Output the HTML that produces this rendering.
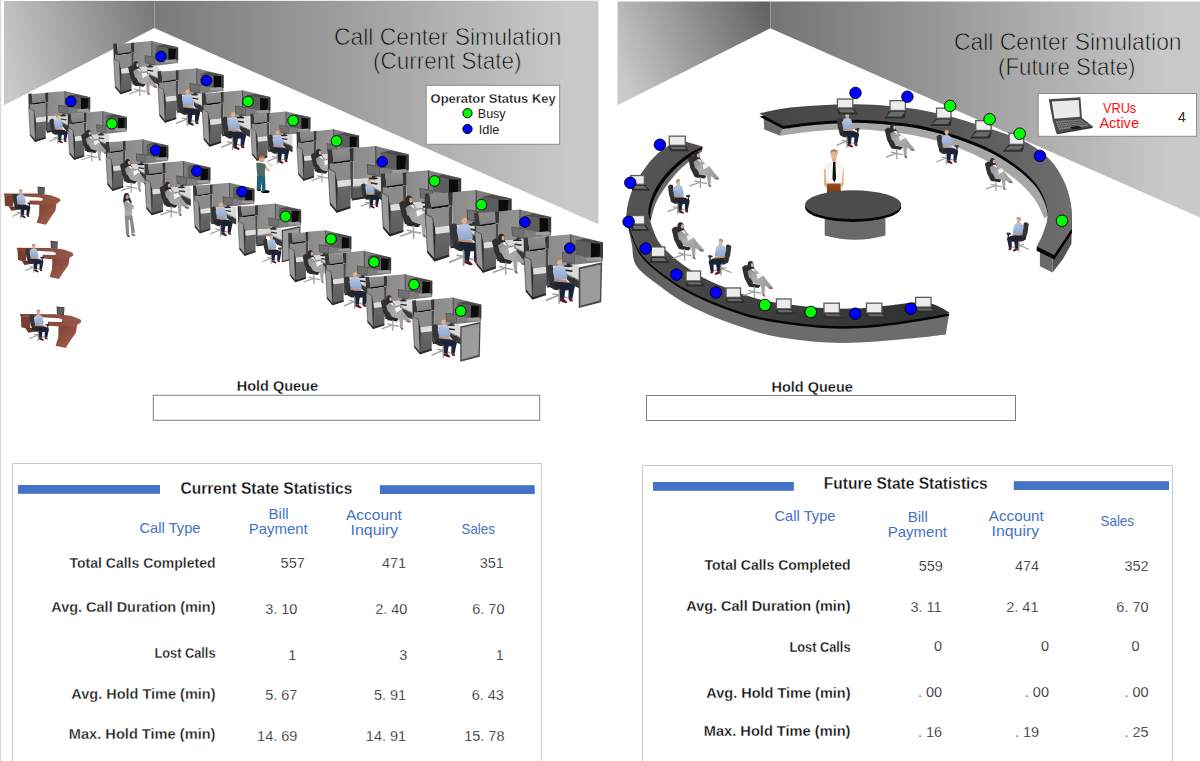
<!DOCTYPE html>
<html lang="en"><head><meta charset="utf-8"><title>Call Center Simulation</title>
<style>
html,body{margin:0;padding:0;background:#fff;}
body{width:1200px;height:761px;overflow:hidden;position:relative;font-family:"Liberation Sans", sans-serif;}
svg{position:absolute;left:0;top:0;display:block;}
text{font-family:"Liberation Sans", sans-serif;}
</style></head>
<body>
<svg width="1200" height="761" viewBox="0 0 1200 761">

<defs>
 <linearGradient id="gLL" gradientUnits="userSpaceOnUse" x1="4" y1="60" x2="154" y2="20">
  <stop offset="0" stop-color="#c8c8c8"/><stop offset="1" stop-color="#7a7a7a"/></linearGradient>
 <linearGradient id="gLR" gradientUnits="userSpaceOnUse" x1="154" y1="0" x2="570" y2="0">
  <stop offset="0" stop-color="#7a7a7a"/><stop offset="1" stop-color="#c9c9c9"/></linearGradient>
 <linearGradient id="gRL" gradientUnits="userSpaceOnUse" x1="617" y1="70" x2="770" y2="5">
  <stop offset="0" stop-color="#cacaca"/><stop offset="1" stop-color="#606060"/></linearGradient>
 <linearGradient id="gRR" gradientUnits="userSpaceOnUse" x1="770" y1="0" x2="1170" y2="0">
  <stop offset="0" stop-color="#747474"/><stop offset="1" stop-color="#c9c9c9"/></linearGradient>
</defs>


<g id="walls">
 <polygon points="4,1 154.3,1 154.3,28 4,105.3" fill="url(#gLL)"/>
 <polygon points="154.3,1 598.4,1 598.4,224.2 154.3,28" fill="url(#gLR)"/>
 <rect x="154" y="1" width="0.8" height="27" fill="#a8a8a8" opacity="0.6"/>
 <polygon points="617.5,1.5 770.2,1.5 770.2,28.3 617.5,105.3" fill="url(#gRL)"/>
 <polygon points="770.2,1.5 1200,1.5 1200,217.5 770.2,28.3" fill="url(#gRR)"/>
 <rect x="769.9" y="1.5" width="0.8" height="27" fill="#b0b0b0" opacity="0.6"/>
 <rect x="0" y="0" width="1.2" height="761" fill="#d9d9d9"/>
 <rect x="61" y="0" width="537" height="1" fill="#ececec"/>
</g>

<defs>
<linearGradient id="gBackL" x1="0" y1="0" x2="1" y2="0"><stop offset="0" stop-color="#8a8a8a"/><stop offset="1" stop-color="#949494"/></linearGradient>
<linearGradient id="gBin" x1="0" y1="0" x2="0" y2="1"><stop offset="0" stop-color="#8f8f8f"/><stop offset="1" stop-color="#7f7f7f"/></linearGradient>
<linearGradient id="gCab" x1="0" y1="0" x2="0" y2="1"><stop offset="0" stop-color="#6a6a6a"/><stop offset="1" stop-color="#5a5a5a"/></linearGradient>
<linearGradient id="gShirt" x1="0" y1="0" x2="0" y2="1"><stop offset="0" stop-color="#b6c8e3"/><stop offset="1" stop-color="#8ca4cd"/></linearGradient>
<linearGradient id="gSuit" x1="0" y1="0" x2="1" y2="1"><stop offset="0" stop-color="#8c8c8c"/><stop offset="1" stop-color="#b8b8b8"/></linearGradient>
<g id="cub"><polygon points="21.78,0.43 40.56,-1.28 40.56,26.05 21.78,26.64" fill="url(#gBackL)"/><polygon points="40.56,-1.28 68.49,5.55 68.49,22.20 40.56,25.62" fill="#7d7d7d"/><polygon points="40.22,-1.28 41.25,-1.11 41.25,25.45 40.22,25.62" fill="#4c4c4c"/><polygon points="44.83,4.27 52.95,2.39 68.49,5.55 58.24,6.58" fill="#4b4b4b"/><polygon points="44.83,4.27 58.24,6.40 58.24,18.96 44.83,16.65" fill="#5e5e5e"/><polygon points="58.24,6.40 66.44,6.66 66.01,18.19 58.24,18.96" fill="#0b0b0b"/><polygon points="66.27,6.15 68.66,5.55 68.66,19.21 65.84,18.96" fill="#3a3a3a"/><polygon points="54.82,18.96 66.95,18.45 66.95,21.69 54.82,21.69" fill="#9d9d9d"/><polygon points="18.79,27.33 43.38,24.77 48.25,26.64 48.25,38.00 37.57,32.88 36.29,30.57 18.79,33.13" fill="#d9d9d9"/><polygon points="18.79,33.13 36.29,30.57 37.57,32.88 48.25,38.00 48.25,39.28 37.15,34.16 18.79,34.33" fill="#8a8a8a"/><polygon points="37.57,34.16 48.25,39.11 48.25,45.43 42.70,43.13 37.57,37.57" fill="#3a3a3a"/><polygon points="20.50,34.16 30.74,33.13 30.74,43.13 20.50,44.83" fill="#5a5a5a"/><polygon points="20.50,43.13 30.74,41.59 30.74,43.13 20.50,44.83" fill="#2a2a2a"/><polygon points="33.13,13.92 44.58,15.71 43.89,24.25 33.65,22.46" fill="#505050"/><polygon points="33.82,14.69 44.06,16.31 43.47,23.57 34.24,21.95" fill="#707070"/><polygon points="37.57,23.74 40.31,24.08 40.31,25.79 37.57,25.45" fill="#2e2e2e"/><ellipse cx="38.60" cy="26.13" rx="3.93" ry="0.85" fill="#262626"/><polygon points="36.29,29.04 42.53,30.06 42.02,31.43 35.70,30.40" fill="#2e2e2e"/><polygon points="5.12,19.64 9.39,21.35 9.39,52.95 7.26,55.00" fill="#2c2c2c"/><polygon points="0.00,1.71 3.84,1.54 5.29,12.81 2.13,18.10 0.43,17.68" fill="#383838"/><polygon points="3.59,1.88 18.53,0.85 18.96,10.67 5.12,12.47" fill="url(#gBin)"/><polygon points="18.53,0.85 21.95,0.34 21.95,11.27 18.96,11.27" fill="#363636"/><polygon points="5.12,12.30 18.96,10.42 18.96,11.96 5.29,13.92" fill="#0c0c0c"/><polygon points="1.71,13.24 5.98,13.66 18.96,11.96 19.47,27.33 8.11,28.52 5.98,21.35 1.71,18.36" fill="#8b8b8b"/><polygon points="18.96,11.78 21.69,11.27 21.35,42.27 19.47,43.38" fill="#484848"/><polygon points="8.11,28.35 19.47,27.07 19.64,32.11 8.54,33.48" fill="#dedede"/><polygon points="8.54,33.48 19.64,32.11 19.30,51.24 7.86,55.00" fill="url(#gCab)"/><polygon points="0.43,17.68 6.40,20.75 7.86,55.00 2.13,48.08" fill="#999999" stroke="#2a2a2a" stroke-width="0.5" stroke-linejoin="round"/><polygon points="2.39,46.54 7.86,53.12 19.30,49.70 19.30,51.41 7.86,55.17 2.13,48.33" fill="#2a2a2a"/></g>
<g id="sidep"><polygon points="47.73,27.39 67.95,22.91 67.12,57.55 47.73,62.52" fill="#4a4a4a"/><polygon points="49.06,28.71 66.63,24.90 65.96,55.90 49.06,60.54" fill="#9c9c9c"/></g>
<g id="man"><polygon points="19.64,26.81 22.63,25.19 25.11,25.62 27.84,40.56 23.23,43.89 20.84,36.72" fill="#353535"/><polygon points="22.72,40.65 41.16,43.21 43.04,45.43 41.16,47.31 27.16,46.97 22.89,44.58" fill="#2b2b2b"/><polygon points="39.97,37.40 44.41,36.72 44.92,38.60 43.72,39.28 43.55,43.72 42.02,43.72 42.02,39.45 40.14,39.11" fill="#303030"/><path d="M30.74,46.54 V58.24 M30.74,51.24 L19.81,55.68 M30.74,51.24 L25.62,50.38 M30.74,51.67 L37.57,53.63" stroke="#9e9e9e" stroke-width="1.4" fill="none" stroke-linecap="round"/><ellipse cx="31.08" cy="22.46" rx="2.22" ry="2.82" fill="#dfb295"/><polygon points="28.52,22.20 29.04,19.81 31.17,18.96 33.30,19.81 33.48,21.35 31.60,20.50 29.72,21.35 29.04,23.23" fill="#b5855a"/><polygon points="30.06,24.59 32.96,24.77 33.30,26.64 29.89,26.47" fill="#d7a688"/><polygon points="25.28,30.32 27.33,26.64 30.06,25.62 34.16,26.13 35.70,27.50 37.75,36.04 37.23,37.92 26.90,38.77" fill="url(#gShirt)"/><polygon points="26.13,37.75 37.57,38.43 38.26,39.97 35.87,40.56 26.64,39.28" fill="#c98c66"/><polygon points="27.16,39.71 39.71,40.31 44.24,43.38 43.55,46.29 31.17,44.58 27.33,43.13" fill="#1b2339"/><polygon points="31.17,43.98 36.55,44.41 35.01,54.82 31.60,54.40" fill="#1b2339"/><polygon points="39.11,44.41 44.15,43.81 42.19,54.40 38.77,53.63" fill="#1b2339"/><polygon points="31.34,54.23 35.01,54.65 38.17,57.39 36.55,58.41 31.60,56.53" fill="#5a1d29"/><polygon points="38.43,53.46 42.10,54.23 42.70,56.87 39.80,56.53" fill="#5a1d29"/></g>
<g id="woman"><polygon points="15.63,26.91 18.34,24.65 21.24,24.65 27.20,42.36 21.78,44.80 17.98,37.03" fill="#303030"/><polygon points="21.60,42.09 34.43,44.44 32.08,47.33 22.50,46.07" fill="#2a2a2a"/><path d="M28.01,46.61 V56.55 M28.01,50.95 L17.17,54.74 M28.01,50.95 L22.59,49.86 M28.01,51.13 L34.07,52.30" stroke="#a4a4a4" stroke-width="1.4" fill="none" stroke-linecap="round"/><ellipse cx="24.13" cy="24.29" rx="2.98" ry="3.98" fill="#2a2a2c"/><polygon points="21.69,24.74 21.42,28.81 22.59,30.62 24.85,29.26 27.11,28.81 28.47,31.07 29.37,29.71 27.11,26.10" fill="#2a2a2c"/><ellipse cx="25.75" cy="24.29" rx="1.36" ry="2.08" fill="#dcae92"/><polygon points="21.06,30.89 24.13,28.54 27.56,27.81 33.16,32.88 30.82,39.02 22.86,37.21" fill="url(#gSuit)"/><polygon points="25.03,28.54 27.38,28.00 29.19,31.43 27.20,30.35" fill="#ffffff"/><polygon points="30.09,33.51 35.15,31.79 36.33,35.41 31.36,37.76" fill="#f4f4f4"/><polygon points="23.95,37.21 30.45,38.84 36.96,34.86 41.66,41.19 36.42,45.17 27.02,42.64" fill="#a8a8a8"/><polygon points="36.78,37.57 41.66,41.19 46.54,46.61 43.47,47.88 36.96,44.26" fill="#a0a0a0"/><polygon points="34.43,43.36 38.59,44.26 38.13,54.02 35.51,53.48" fill="#a4a4a4"/><polygon points="42.02,46.43 46.72,47.15 46.00,48.60 42.20,47.88" fill="#8c5a40"/><polygon points="35.51,53.21 37.95,53.84 39.04,56.10 36.78,55.65" fill="#8c5a40"/></g>
</defs>
<g id="left-scene" clip-path="url(#clipL)">
<clipPath id="clipL"><rect x="0" y="0" width="616" height="380"/></clipPath>
<g transform="translate(113.3,42.1) scale(0.945)">
<use href="#cub"/>
<use href="#woman"/>
</g>
<circle cx="161" cy="56.4" r="5.3" fill="#0000ff" stroke="#000" stroke-width="0.9"/>
<g transform="translate(157.6,69.6) scale(0.962)">
<use href="#cub"/>
<use href="#man"/>
</g>
<circle cx="206.3" cy="80.6" r="5.3" fill="#0000ff" stroke="#000" stroke-width="0.9"/>
<g transform="translate(201.8,91.5) scale(1.000)">
<use href="#cub"/>
<use href="#man"/>
</g>
<circle cx="248" cy="101.4" r="5.3" fill="#00ff00" stroke="#000" stroke-width="0.9"/>
<g transform="translate(250.3,112.5) scale(0.876)">
<use href="#cub"/>
<use href="#man"/>
</g>
<circle cx="293.1" cy="120.5" r="5.3" fill="#00ff00" stroke="#000" stroke-width="0.9"/>
<g transform="translate(296.5,130.5) scale(0.912)">
<use href="#cub"/>
<use href="#woman"/>
</g>
<circle cx="336.4" cy="140.9" r="5.3" fill="#00ff00" stroke="#000" stroke-width="0.9"/>
<g transform="translate(327.6,147.6) scale(1.182)">
<use href="#cub"/>
</g>
<g transform="translate(346.3,164.6) scale(0.75)"><use href="#man"/></g>
<circle cx="382.2" cy="161.8" r="5.3" fill="#0000ff" stroke="#000" stroke-width="0.9"/>
<g transform="translate(380.7,171.8) scale(1.172)">
<use href="#cub"/>
<use href="#woman"/>
</g>
<circle cx="434.5" cy="181" r="5.3" fill="#00ff00" stroke="#000" stroke-width="0.9"/>
<g transform="translate(424.7,191.6) scale(1.266)">
<use href="#cub"/>
<use href="#man"/>
</g>
<circle cx="481.4" cy="204.7" r="5.3" fill="#00ff00" stroke="#000" stroke-width="0.9"/>
<g transform="translate(474.3,210.9) scale(1.120)">
<use href="#cub"/>
<use href="#woman"/>
</g>
<circle cx="524.9" cy="222.1" r="5.3" fill="#0000ff" stroke="#000" stroke-width="0.9"/>
<g transform="translate(523.5,235.7) scale(1.158)">
<use href="#cub"/>
<use href="#man"/>
<use href="#sidep"/>
</g>
<circle cx="569.8" cy="248.1" r="5.3" fill="#0000ff" stroke="#000" stroke-width="0.9"/>
<g transform="translate(28.3,92.2) scale(0.902)">
<use href="#cub"/>
</g>
<g transform="translate(35.0,100.1) scale(0.74)"><use href="#man"/></g>
<circle cx="70.9" cy="101.4" r="5.3" fill="#0000ff" stroke="#000" stroke-width="0.9"/>
<g transform="translate(67.6,112.2) scale(0.864)">
<use href="#cub"/>
<use href="#woman"/>
</g>
<circle cx="111.8" cy="123.7" r="5.3" fill="#00ff00" stroke="#000" stroke-width="0.9"/>
<g transform="translate(105.6,140.5) scale(0.914)">
<use href="#cub"/>
<use href="#woman"/>
</g>
<circle cx="155.6" cy="150.4" r="5.3" fill="#0000ff" stroke="#000" stroke-width="0.9"/>
<g transform="translate(144.4,162.2) scale(0.962)">
<use href="#cub"/>
<use href="#woman"/>
</g>
<circle cx="196.8" cy="171.1" r="5.3" fill="#0000ff" stroke="#000" stroke-width="0.9"/>
<g transform="translate(193.0,183.9) scale(0.895)">
<use href="#cub"/>
<use href="#man"/>
</g>
<circle cx="242.1" cy="191.7" r="5.3" fill="#0000ff" stroke="#000" stroke-width="0.9"/>
<g transform="translate(237.6,204.7) scale(0.926)">
<use href="#cub"/>
<use href="#sidep"/>
</g>
<g transform="translate(248.3,220.0) scale(0.745)"><use href="#man"/></g>
<circle cx="285.5" cy="216.4" r="5.3" fill="#00ff00" stroke="#000" stroke-width="0.9"/>
<g transform="translate(288.2,231.4) scale(0.920)">
<use href="#cub"/>
<use href="#woman"/>
</g>
<circle cx="331" cy="239" r="5.3" fill="#00ff00" stroke="#000" stroke-width="0.9"/>
<g transform="translate(325.0,252.1) scale(0.964)">
<use href="#cub"/>
<use href="#man"/>
</g>
<circle cx="374" cy="262" r="5.3" fill="#00ff00" stroke="#000" stroke-width="0.9"/>
<g transform="translate(365.6,275.4) scale(0.972)">
<use href="#cub"/>
<use href="#woman"/>
</g>
<circle cx="414" cy="284.6" r="5.3" fill="#00ff00" stroke="#000" stroke-width="0.9"/>
<g transform="translate(412.2,298.8) scale(1.007)">
<use href="#cub"/>
<use href="#man"/>
<use href="#sidep"/>
</g>
<circle cx="460.8" cy="311" r="5.3" fill="#00ff00" stroke="#000" stroke-width="0.9"/>
<defs>
<linearGradient id="gWoodT" x1="0" y1="0" x2="1" y2="0"><stop offset="0" stop-color="#7d4033"/><stop offset="1" stop-color="#98584a"/></linearGradient>
<linearGradient id="gWoodF" x1="0" y1="0" x2="1" y2="1"><stop offset="0" stop-color="#7a3e31"/><stop offset="1" stop-color="#a86452"/></linearGradient>
<g id="rdesk"><polygon points="36.66,-7.69 44.58,-6.98 44.11,1.06 37.13,0.35" fill="#3f3f3f"/><polygon points="37.61,-6.74 43.76,-6.15 43.40,0.12 37.96,-0.47" fill="#5d5d5d"/><polygon points="0.95,2.01 10.29,2.48 10.29,13.84 5.56,14.07 1.42,13.13" fill="#7a3e31"/><polygon points="5.56,13.84 15.61,13.84 15.61,17.38 8.51,18.57" fill="#6a3429"/><path d="M0.00,0.83 L0.47,-0.24 36.90,0.00 51.09,1.66 60.55,5.32 61.49,7.92 57.24,10.88 43.99,12.65 28.38,11.47 27.91,7.45 41.63,7.69 42.57,5.56 39.26,4.14 21.76,2.96 0.95,2.25 Z" fill="url(#gWoodT)"/><polygon points="38.67,11.94 57.24,10.76 56.05,18.57 50.14,26.84 45.88,33.70 35.71,31.58 38.32,23.06" fill="url(#gWoodF)"/></g>
</defs>
<g transform="translate(3.6,193.6) scale(0.925)"><use href="#rdesk"/>
<g transform="translate(-5.97,-19.58) scale(0.79)"><use href="#man"/></g>
</g>
<g transform="translate(16.6,247.9) scale(0.925)"><use href="#rdesk"/>
<g transform="translate(-5.97,-19.58) scale(0.79)"><use href="#man"/></g>
</g>
<g transform="translate(19.9,314.2) scale(1.0)"><use href="#rdesk"/>
<g transform="translate(-5.97,-19.58) scale(0.79)"><use href="#man"/></g>
</g>
<g transform="translate(110,185)"><ellipse cx="16.57" cy="11.83" rx="2.84" ry="3.94" fill="#29292b"/><polygon points="13.57,12.62 13.02,16.96 14.99,17.75 18.54,15.78 20.67,18.30 21.93,17.51 19.72,12.62" fill="#29292b"/><ellipse cx="17.28" cy="11.99" rx="1.58" ry="2.29" fill="#c8957b"/><polygon points="13.25,17.20 16.73,15.46 20.67,18.30 23.83,20.67 23.51,23.67 22.25,24.46 22.09,30.61 14.83,30.61 14.67,22.88" fill="url(#gSuit)"/><polygon points="16.17,15.46 18.78,15.78 19.57,18.62 17.51,17.04" fill="#ffffff"/><polygon points="14.67,30.37 22.25,30.37 25.09,47.50 21.46,49.07 19.88,35.11 18.62,35.11 19.09,49.86 16.09,50.18" fill="#8a8a8a"/><polygon points="16.73,50.02 19.41,50.18 19.88,52.23 17.51,51.76" fill="#4a4038"/><polygon points="21.30,48.92 25.09,49.39 25.40,50.65 22.09,50.49" fill="#4a4038"/></g>
<g transform="translate(245,150)"><ellipse cx="20.36" cy="41.51" rx="4.33" ry="1.58" fill="#050505"/><polygon points="11.56,39.28 15.76,38.75 16.16,40.59 13.14,41.25" fill="#0a0a0a"/><ellipse cx="16.81" cy="9.20" rx="2.89" ry="3.15" fill="#d9a886"/><polygon points="13.92,8.54 14.58,6.44 17.21,5.65 19.70,6.57 19.84,8.41 17.73,7.75 15.24,8.28" fill="#c26a3c"/><polygon points="11.30,13.27 13.14,12.61 19.70,13.66 21.94,17.87 19.97,19.70 19.97,26.40 12.35,25.75 11.69,19.70" fill="#4f6d64"/><polygon points="19.70,17.21 21.94,17.21 24.83,19.70 23.78,21.54 20.49,19.70" fill="#e2b496"/><polygon points="22.33,13.79 24.43,12.87 28.64,15.24 27.59,16.55 24.43,16.42" fill="#f1d9cc"/><polygon points="12.09,25.62 20.10,26.27 20.49,40.85 17.08,42.17 16.81,31.66 15.63,39.41 11.69,40.20" fill="#1f6277"/></g>
</g>
<defs>
<linearGradient id="gTop1" gradientUnits="userSpaceOnUse" x1="760" y1="0" x2="1072" y2="0"><stop offset="0" stop-color="#444444"/><stop offset="0.55" stop-color="#545454"/><stop offset="1" stop-color="#6e6e6e"/></linearGradient>
<linearGradient id="gTop2" gradientUnits="userSpaceOnUse" x1="626" y1="150" x2="900" y2="320"><stop offset="0" stop-color="#5a5a5a"/><stop offset="0.35" stop-color="#474747"/><stop offset="1" stop-color="#333333"/></linearGradient>
<linearGradient id="gSide2" gradientUnits="userSpaceOnUse" x1="626" y1="0" x2="700" y2="0"><stop offset="0" stop-color="#555555"/><stop offset="1" stop-color="#6c6c6c"/></linearGradient>
<linearGradient id="gTrou" x1="0" y1="0" x2="0" y2="1"><stop offset="0" stop-color="#9a4e1c"/><stop offset="1" stop-color="#7a3a12"/></linearGradient>
</defs>
<g id="right-scene">
<path d="M783.4,125.9 C789.0,125.2 804.6,122.7 816.8,121.7 C829.0,120.7 844.8,119.7 856.8,119.7 C868.8,119.7 878.6,120.8 888.6,121.7 C898.6,122.6 906.6,123.1 917.0,125.1 C927.4,127.1 939.4,130.1 951.0,133.8 C962.6,137.6 976.4,142.7 986.8,147.6 C997.2,152.5 1005.7,157.9 1013.5,163.5 C1021.3,169.1 1028.4,175.2 1033.5,181.0 C1038.6,186.8 1041.6,192.2 1044.0,198.0 C1046.4,203.8 1047.2,212.8 1047.8,215.7 L1044.6,218.4 C1042.8,214.9 1038.7,204.5 1033.5,197.7 C1028.3,190.9 1021.3,183.8 1013.5,177.7 C1005.7,171.6 997.2,166.4 986.8,161.0 C976.4,155.6 962.6,149.3 951.0,145.1 C939.4,140.9 927.4,138.2 917.0,136.0 C906.6,133.8 898.6,132.9 888.6,131.8 C878.6,130.7 868.8,129.4 856.8,129.3 C844.8,129.2 829.7,129.9 816.8,131.0 C803.9,132.1 785.5,135.2 779.2,136.0 Z" fill="#a6a6a6"/>
<polygon points="763.6,116.5 783.4,126.5 779.6,135.4 764.2,129.4" fill="#6c6c6c"/>
<polygon points="1039.9,251.0 1052.5,258.0 1052.5,272.5 1039.9,266.2" fill="#6a6a6a"/>
<polygon points="1052.5,257.0 1064.0,244.0 1071.8,228.0 1071.4,244.0 1063.0,259.0 1052.5,272.5" fill="#555555"/>
<path d="M759.2,113.4 C763.2,112.6 773.8,109.7 783.4,108.4 C793.0,107.1 804.6,106.1 816.8,105.4 C829.0,104.7 844.8,104.1 856.8,104.2 C868.8,104.3 878.6,105.1 888.6,105.9 C898.6,106.7 906.6,107.4 917.0,109.2 C927.4,111.0 938.5,113.4 951.0,116.7 C963.5,120.0 979.2,124.9 991.8,129.2 C1004.4,133.5 1017.1,137.4 1026.8,142.6 C1036.5,147.8 1044.1,153.8 1050.2,160.1 C1056.3,166.4 1060.2,173.5 1063.6,180.2 C1066.9,186.9 1068.9,194.1 1070.3,200.2 C1071.7,206.3 1071.6,212.1 1071.8,216.9 C1072.0,221.7 1071.5,227.0 1071.5,229.0 L1054.1,255.1 L1036.8,246.5 C1037.8,244.3 1041.3,238.2 1043.1,233.1 C1044.9,228.0 1047.6,221.5 1047.8,215.7 C1048.0,209.8 1046.4,203.8 1044.0,198.0 C1041.6,192.2 1038.6,186.8 1033.5,181.0 C1028.4,175.2 1021.3,169.1 1013.5,163.5 C1005.7,157.9 997.2,152.5 986.8,147.6 C976.4,142.7 962.6,137.6 951.0,133.8 C939.4,130.1 927.4,127.1 917.0,125.1 C906.6,123.1 898.6,122.6 888.6,121.7 C878.6,120.8 868.8,119.7 856.8,119.7 C844.8,119.7 829.0,120.7 816.8,121.7 C804.6,122.7 789.0,125.2 783.4,125.9 Z" fill="#050505" transform="translate(0,3.1)"/>
<polygon points="1036.8,246.5 1054.1,255.1 1071.5,229.0 1072.0,232.8 1054.4,259.6 1036.6,250.8" fill="#050505"/>
<path d="M759.2,113.4 C763.2,112.6 773.8,109.7 783.4,108.4 C793.0,107.1 804.6,106.1 816.8,105.4 C829.0,104.7 844.8,104.1 856.8,104.2 C868.8,104.3 878.6,105.1 888.6,105.9 C898.6,106.7 906.6,107.4 917.0,109.2 C927.4,111.0 938.5,113.4 951.0,116.7 C963.5,120.0 979.2,124.9 991.8,129.2 C1004.4,133.5 1017.1,137.4 1026.8,142.6 C1036.5,147.8 1044.1,153.8 1050.2,160.1 C1056.3,166.4 1060.2,173.5 1063.6,180.2 C1066.9,186.9 1068.9,194.1 1070.3,200.2 C1071.7,206.3 1071.6,212.1 1071.8,216.9 C1072.0,221.7 1071.5,227.0 1071.5,229.0 L1054.1,255.1 L1036.8,246.5 C1037.8,244.3 1041.3,238.2 1043.1,233.1 C1044.9,228.0 1047.6,221.5 1047.8,215.7 C1048.0,209.8 1046.4,203.8 1044.0,198.0 C1041.6,192.2 1038.6,186.8 1033.5,181.0 C1028.4,175.2 1021.3,169.1 1013.5,163.5 C1005.7,157.9 997.2,152.5 986.8,147.6 C976.4,142.7 962.6,137.6 951.0,133.8 C939.4,130.1 927.4,127.1 917.0,125.1 C906.6,123.1 898.6,122.6 888.6,121.7 C878.6,120.8 868.8,119.7 856.8,119.7 C844.8,119.7 829.0,120.7 816.8,121.7 C804.6,122.7 789.0,125.2 783.4,125.9 Z" fill="url(#gTop1)"/>
<path d="M626.8,218.3 C627.5,220.5 628.6,225.8 630.8,231.5 C633.0,237.2 635.8,246.3 640.2,252.6 C644.6,258.9 649.6,263.4 657.0,269.4 C664.4,275.3 674.6,282.7 684.4,288.3 C694.2,293.9 705.7,298.8 715.9,303.0 C726.1,307.2 736.9,310.9 745.4,313.5 C753.9,316.1 759.0,317.0 767.0,318.5 C775.0,320.0 783.3,321.3 793.3,322.5 C803.2,323.7 815.6,325.2 826.7,325.8 C837.8,326.4 848.9,326.4 860.0,325.8 C871.1,325.2 882.2,323.9 893.3,322.5 C904.4,321.1 917.4,319.0 926.7,317.5 C936.0,316.0 945.5,314.0 949.2,313.3 L945.8,334.2 C942.6,334.6 935.5,335.7 926.7,336.7 C918.0,337.7 904.4,339.0 893.3,340.0 C882.2,341.0 871.1,342.1 860.0,342.5 C848.9,342.9 837.8,343.1 826.7,342.5 C815.6,341.9 803.2,340.5 793.3,339.2 C783.3,337.9 775.0,336.6 767.0,334.8 C759.0,333.0 753.9,331.2 745.4,328.3 C736.9,325.4 726.1,321.9 715.9,317.7 C705.7,313.5 694.2,308.6 684.4,303.0 C674.6,297.4 665.1,290.4 657.0,284.1 C648.9,277.8 640.2,271.9 636.0,265.2 C631.8,258.5 633.2,250.7 631.8,244.0 C630.4,237.3 628.5,230.0 627.6,225.0 C626.7,220.0 626.5,215.8 626.3,214.0 Z" fill="url(#gSide2)"/>
<polygon points="945.8,334.2 945.8,314.0 949.2,313.3 926.7,317.5 926.7,336.7" fill="#6c6c6c"/>
<path d="M702.5,146.6 C700.3,147.8 693.7,150.7 689.1,153.7 C684.5,156.7 679.6,160.2 674.9,164.7 C670.2,169.2 664.5,175.2 660.7,180.5 C656.9,185.8 654.1,190.9 652.0,196.2 C649.9,201.4 648.4,208.0 648.1,212.0 C647.8,216.0 649.7,218.7 650.0,220.0 L650.8,220.5 C651.7,217.6 653.5,208.4 656.0,202.8 C658.5,197.2 661.8,192.2 665.5,187.0 C669.2,181.8 673.9,175.9 678.1,171.4 C682.3,166.9 686.7,163.5 690.7,160.2 C694.7,156.9 700.0,152.9 701.9,151.5 Z" fill="#686868"/>
<path d="M702.5,146.6 C700.3,147.8 693.7,150.7 689.1,153.7 C684.5,156.7 679.6,160.2 674.9,164.7 C670.2,169.2 664.5,175.2 660.7,180.5 C656.9,185.8 654.1,190.9 652.0,196.2 C649.9,201.4 648.4,208.0 648.1,212.0 C647.8,216.0 649.7,218.7 650.0,220.0 L651.0,220.3 C650.9,219.1 649.8,216.6 650.3,213.0 C650.8,209.4 652.1,203.8 654.2,198.8 C656.3,193.8 659.2,188.4 662.9,183.2 C666.6,178.0 672.0,172.0 676.6,167.6 C681.2,163.2 686.0,159.8 690.3,156.6 C694.6,153.4 700.3,149.9 702.3,148.6 Z" fill="#050505"/>
<path d="M686,141.8 C683.1,142.5 673.9,143.3 668.6,145.8 C663.3,148.3 658.9,152.3 654.4,156.8 C649.9,161.3 645.5,167.1 641.8,172.6 C638.1,178.1 634.7,184.4 632.3,189.9 C629.9,195.4 628.5,201.0 627.6,205.7 C626.7,210.4 626.3,214.0 626.8,218.3 C627.3,222.6 628.6,225.8 630.8,231.5 C633.0,237.2 635.8,246.3 640.2,252.6 C644.6,258.9 649.6,263.4 657.0,269.4 C664.4,275.3 674.6,282.7 684.4,288.3 C694.2,293.9 705.7,298.8 715.9,303.0 C726.1,307.2 736.9,310.9 745.4,313.5 C753.9,316.1 759.0,317.0 767.0,318.5 C775.0,320.0 783.3,321.3 793.3,322.5 C803.2,323.7 815.6,325.2 826.7,325.8 C837.8,326.4 848.9,326.4 860.0,325.8 C871.1,325.2 882.2,323.9 893.3,322.5 C904.4,321.1 917.4,319.0 926.7,317.5 C936.0,316.0 945.5,314.0 949.2,313.3 L949.2,312.3 C946.6,310.9 939.0,305.8 933.3,304.2 C927.6,302.6 921.7,302.4 915.0,302.5 C908.3,302.6 902.5,304.0 893.3,305.0 C884.1,306.0 871.1,307.8 860.0,308.3 C848.9,308.9 837.8,308.9 826.7,308.3 C815.6,307.8 804.0,306.4 793.3,305.0 C782.5,303.6 772.3,302.3 762.2,299.9 C752.1,297.5 742.5,294.1 732.7,290.4 C722.9,286.7 712.4,282.7 703.3,277.8 C694.2,272.9 685.1,266.5 678.1,261.0 C671.1,255.5 665.0,249.8 661.0,245.0 C657.0,240.2 655.8,236.2 654.0,232.0 C652.2,227.8 651.0,223.3 650.0,220.0 C649.0,216.7 647.8,216.0 648.1,212.0 C648.4,208.0 649.9,201.4 652.0,196.2 C654.1,190.9 656.9,185.8 660.7,180.5 C664.5,175.2 670.2,169.2 674.9,164.7 C679.6,160.2 684.5,156.7 689.1,153.7 C693.7,150.7 700.3,147.8 702.5,146.6 Z" fill="#050505" transform="translate(0,2.4)"/>
<path d="M686,141.8 C683.1,142.5 673.9,143.3 668.6,145.8 C663.3,148.3 658.9,152.3 654.4,156.8 C649.9,161.3 645.5,167.1 641.8,172.6 C638.1,178.1 634.7,184.4 632.3,189.9 C629.9,195.4 628.5,201.0 627.6,205.7 C626.7,210.4 626.3,214.0 626.8,218.3 C627.3,222.6 628.6,225.8 630.8,231.5 C633.0,237.2 635.8,246.3 640.2,252.6 C644.6,258.9 649.6,263.4 657.0,269.4 C664.4,275.3 674.6,282.7 684.4,288.3 C694.2,293.9 705.7,298.8 715.9,303.0 C726.1,307.2 736.9,310.9 745.4,313.5 C753.9,316.1 759.0,317.0 767.0,318.5 C775.0,320.0 783.3,321.3 793.3,322.5 C803.2,323.7 815.6,325.2 826.7,325.8 C837.8,326.4 848.9,326.4 860.0,325.8 C871.1,325.2 882.2,323.9 893.3,322.5 C904.4,321.1 917.4,319.0 926.7,317.5 C936.0,316.0 945.5,314.0 949.2,313.3 L949.2,312.3 C946.6,310.9 939.0,305.8 933.3,304.2 C927.6,302.6 921.7,302.4 915.0,302.5 C908.3,302.6 902.5,304.0 893.3,305.0 C884.1,306.0 871.1,307.8 860.0,308.3 C848.9,308.9 837.8,308.9 826.7,308.3 C815.6,307.8 804.0,306.4 793.3,305.0 C782.5,303.6 772.3,302.3 762.2,299.9 C752.1,297.5 742.5,294.1 732.7,290.4 C722.9,286.7 712.4,282.7 703.3,277.8 C694.2,272.9 685.1,266.5 678.1,261.0 C671.1,255.5 665.0,249.8 661.0,245.0 C657.0,240.2 655.8,236.2 654.0,232.0 C652.2,227.8 651.0,223.3 650.0,220.0 C649.0,216.7 647.8,216.0 648.1,212.0 C648.4,208.0 649.9,201.4 652.0,196.2 C654.1,190.9 656.9,185.8 660.7,180.5 C664.5,175.2 670.2,169.2 674.9,164.7 C679.6,160.2 684.5,156.7 689.1,153.7 C693.7,150.7 700.3,147.8 702.5,146.6 Z" fill="url(#gTop2)"/>
<path d="M824.7,212 V235.5 Q855,244 885.4,235.5 V212 Z" fill="#696969"/>
<polygon points="824.1,168.9 827.3,166.0 827.9,183.4 826.2,188.4 824.1,184.8" fill="#e0b090"/><polygon points="840.9,165.7 844.1,168.9 843.5,184.8 841.8,188.4 840.3,183.4" fill="#e0b090"/><polygon points="827.0,183.1 840.6,183.1 840.9,193.8 827.0,193.8" fill="url(#gTrou)"/><polygon points="825.0,164.9 830.2,161.1 838.0,161.1 843.8,165.5 841.5,183.4 826.7,183.4" fill="#f6f6f6"/><polygon points="833.1,161.7 835.4,161.7 836.0,179.0 834.3,182.2 832.5,179.0" fill="#0a0a0a"/><ellipse cx="834.0" cy="154.5" rx="3.3" ry="4.6" fill="#e3b596"/><polygon points="830.5,153.9 830.8,150.4 834.0,149.0 837.4,150.4 837.7,153.9 836.0,151.6 832.2,151.6" fill="#b5733f"/><polygon points="832.2,158.5 836.0,158.5 835.7,161.7 832.5,161.7" fill="#d9a686"/>
<ellipse cx="853.1" cy="207.3" rx="48" ry="14.6" fill="#050505"/>
<ellipse cx="853.1" cy="204.7" rx="48" ry="14.4" fill="#4c4c4c"/>
<g transform="translate(819.2,95.0) scale(0.900)"><use href="#man"/></g>
<g transform="translate(869.6,103.9) scale(0.970)"><use href="#woman"/></g>
<g transform="translate(919.3,112.7) scale(0.880)"><use href="#man"/></g>
<g transform="translate(970.8,139.6) scale(0.900)"><use href="#woman"/></g>
<g transform="translate(1046.0,200.2) scale(-0.880,0.880)"><use href="#man"/></g>
<g transform="translate(672.4,131.2) scale(1.000)"><use href="#woman"/></g>
<g transform="translate(650.7,162.4) scale(0.880)"><use href="#man"/></g>
<g transform="translate(655.4,201.2) scale(1.040)"><use href="#woman"/></g>
<g transform="translate(749.4,221.3) scale(-0.920,0.920)"><use href="#man"/></g>
<g transform="translate(726.4,240.7) scale(1.000)"><use href="#woman"/></g>
<polygon points="836.8,108.4 853.5,108.4 858.5,114.4 838.5,114.4" fill="#2e2e2e"/><polygon points="838.2,109.3 852.5,109.3 855.5,112.4 840.9,112.4" fill="#6a6a6a"/><rect x="836.8" y="98.4" width="16.7" height="10.0" fill="#5c5c5c"/><rect x="838.1" y="99.7" width="14.1" height="7.6" fill="#ececec"/>
<polygon points="889.4,110.9 906.1,110.9 904.4,118.4 884.4,118.4" fill="#2e2e2e"/><polygon points="890.8,111.8 905.1,111.8 901.4,116.4 886.8,116.4" fill="#6a6a6a"/><rect x="889.4" y="100.0" width="16.7" height="10.9" fill="#5c5c5c"/><rect x="890.7" y="101.3" width="14.1" height="8.5" fill="#ececec"/>
<polygon points="935.9,118.6 951.7,118.6 950.9,125.9 930.0,125.9" fill="#2e2e2e"/><polygon points="937.3,119.5 950.7,119.5 947.9,123.9 932.4,123.9" fill="#6a6a6a"/><rect x="935.9" y="107.5" width="15.8" height="11.1" fill="#5c5c5c"/><rect x="937.2" y="108.8" width="13.2" height="8.7" fill="#ececec"/>
<polygon points="975.1,130.9 991.8,130.9 990.1,138.4 970.0,138.4" fill="#2e2e2e"/><polygon points="976.5,131.8 990.8,131.8 987.1,136.4 972.4,136.4" fill="#6a6a6a"/><rect x="975.1" y="120.0" width="16.7" height="10.9" fill="#5c5c5c"/><rect x="976.4" y="121.3" width="14.1" height="8.5" fill="#ececec"/>
<polygon points="1008.5,144.8 1024.3,144.8 1022.7,151.8 1002.6,151.8" fill="#2e2e2e"/><polygon points="1009.9,145.7 1023.3,145.7 1019.7,149.8 1005.0,149.8" fill="#6a6a6a"/><rect x="1008.5" y="132.6" width="15.8" height="12.2" fill="#5c5c5c"/><rect x="1009.8" y="133.9" width="13.2" height="9.8" fill="#ececec"/>
<polygon points="668.6,145.8 686.0,145.8 689.1,151.3 670.2,151.3" fill="#2e2e2e"/><polygon points="670.0,146.7 685.0,146.7 686.1,149.3 672.6,149.3" fill="#6a6a6a"/><rect x="668.6" y="135.5" width="17.4" height="10.3" fill="#5c5c5c"/><rect x="669.9" y="136.8" width="14.8" height="7.9" fill="#ececec"/>
<polygon points="630.0,184.8 645.0,184.8 650.5,190.7 632.3,190.7" fill="#2e2e2e"/><polygon points="631.4,185.7 644.0,185.7 647.5,188.7 634.7,188.7" fill="#6a6a6a"/><rect x="630.0" y="174.9" width="15.0" height="9.9" fill="#5c5c5c"/><rect x="631.3" y="176.2" width="12.4" height="7.5" fill="#ececec"/>
<polygon points="631.5,224.6 645.3,224.6 649.7,230.9 631.5,230.9" fill="#2e2e2e"/><polygon points="632.9,225.5 644.3,225.5 646.7,228.9 633.9,228.9" fill="#6a6a6a"/><rect x="631.5" y="214.9" width="13.8" height="9.7" fill="#5c5c5c"/><rect x="632.8" y="216.2" width="11.2" height="7.3" fill="#ececec"/>
<polygon points="650.7,257.0 665.5,257.0 669.7,263.1 649.7,263.1" fill="#2e2e2e"/><polygon points="652.1,257.9 664.5,257.9 666.7,261.1 652.1,261.1" fill="#6a6a6a"/><rect x="650.7" y="246.3" width="14.8" height="10.7" fill="#5c5c5c"/><rect x="652.0" y="247.6" width="12.2" height="8.3" fill="#ececec"/>
<polygon points="685.4,281.3 701.2,281.3 705.4,286.4 686.5,286.4" fill="#2e2e2e"/><polygon points="686.8,282.2 700.2,282.2 702.4,284.4 688.9,284.4" fill="#6a6a6a"/><rect x="685.4" y="270.4" width="15.8" height="10.9" fill="#5c5c5c"/><rect x="686.7" y="271.7" width="13.2" height="8.5" fill="#ececec"/>
<polygon points="725.4,297.8 741.2,297.8 745.4,303.0 726.4,303.0" fill="#2e2e2e"/><polygon points="726.8,298.7 740.2,298.7 742.4,301.0 728.8,301.0" fill="#6a6a6a"/><rect x="725.4" y="287.3" width="15.8" height="10.5" fill="#5c5c5c"/><rect x="726.7" y="288.6" width="13.2" height="8.1" fill="#ececec"/>
<polygon points="775.8,309.2 791.7,309.2 795.8,314.2 776.7,314.2" fill="#2e2e2e"/><polygon points="777.2,310.1 790.7,310.1 792.8,312.2 779.1,312.2" fill="#6a6a6a"/><rect x="775.8" y="298.3" width="15.9" height="10.9" fill="#5c5c5c"/><rect x="777.1" y="299.6" width="13.3" height="8.5" fill="#ececec"/>
<polygon points="823.3,313.3 840.0,313.3 844.2,318.3 825.0,318.3" fill="#2e2e2e"/><polygon points="824.7,314.2 839.0,314.2 841.2,316.3 827.4,316.3" fill="#6a6a6a"/><rect x="823.3" y="302.5" width="16.7" height="10.8" fill="#5c5c5c"/><rect x="824.6" y="303.8" width="14.1" height="8.4" fill="#ececec"/>
<polygon points="865.8,313.3 882.5,313.3 887.5,318.3 867.5,318.3" fill="#2e2e2e"/><polygon points="867.2,314.2 881.5,314.2 884.5,316.3 869.9,316.3" fill="#6a6a6a"/><rect x="865.8" y="302.5" width="16.7" height="10.8" fill="#5c5c5c"/><rect x="867.1" y="303.8" width="14.1" height="8.4" fill="#ececec"/>
<polygon points="915.0,307.5 931.7,307.5 936.7,312.5 916.7,312.5" fill="#2e2e2e"/><polygon points="916.4,308.4 930.7,308.4 933.7,310.5 919.1,310.5" fill="#6a6a6a"/><rect x="915.0" y="296.7" width="16.7" height="10.8" fill="#5c5c5c"/><rect x="916.3" y="298.0" width="14.1" height="8.4" fill="#ececec"/>
<circle cx="855.5" cy="92.9" r="5.75" fill="#0000ff" stroke="#000" stroke-width="0.9"/>
<circle cx="907.4" cy="96.7" r="5.75" fill="#0000ff" stroke="#000" stroke-width="0.9"/>
<circle cx="950.1" cy="105.9" r="5.75" fill="#00ff00" stroke="#000" stroke-width="0.9"/>
<circle cx="989.6" cy="119.2" r="5.75" fill="#00ff00" stroke="#000" stroke-width="0.9"/>
<circle cx="1019.7" cy="133.7" r="5.75" fill="#00ff00" stroke="#000" stroke-width="0.9"/>
<circle cx="1039.9" cy="155.9" r="5.75" fill="#0000ff" stroke="#000" stroke-width="0.9"/>
<circle cx="1062" cy="220.8" r="5.75" fill="#00ff00" stroke="#000" stroke-width="0.9"/>
<circle cx="659.9" cy="144.7" r="5.75" fill="#0000ff" stroke="#000" stroke-width="0.9"/>
<circle cx="630.3" cy="182.8" r="5.75" fill="#0000ff" stroke="#000" stroke-width="0.9"/>
<circle cx="628.6" cy="221.8" r="5.75" fill="#0000ff" stroke="#000" stroke-width="0.9"/>
<circle cx="645.6" cy="248.5" r="5.75" fill="#0000ff" stroke="#000" stroke-width="0.9"/>
<circle cx="676.4" cy="274.6" r="5.75" fill="#0000ff" stroke="#000" stroke-width="0.9"/>
<circle cx="715.9" cy="292.5" r="5.75" fill="#0000ff" stroke="#000" stroke-width="0.9"/>
<circle cx="765" cy="305" r="5.75" fill="#00ff00" stroke="#000" stroke-width="0.9"/>
<circle cx="810.8" cy="312" r="5.75" fill="#00ff00" stroke="#000" stroke-width="0.9"/>
<circle cx="855.3" cy="313.7" r="5.75" fill="#0000ff" stroke="#000" stroke-width="0.9"/>
<circle cx="910.8" cy="308.7" r="5.75" fill="#0000ff" stroke="#000" stroke-width="0.9"/>
</g>
<g id="titles" font-family='"Liberation Sans", sans-serif'>
<text x="334.0" y="45.3" font-size="24" font-weight="400" fill="#0a0a0a" text-anchor="start" textLength="227.6" lengthAdjust="spacingAndGlyphs" stroke="url(#gLR)" stroke-width="0.75" xml:space="preserve">Call Center Simulation</text>
<text x="373.0" y="69.2" font-size="24" font-weight="400" fill="#0a0a0a" text-anchor="start" textLength="148.5" lengthAdjust="spacingAndGlyphs" stroke="url(#gLR)" stroke-width="0.75" xml:space="preserve">(Current State)</text>
</g>
<g id="ui"><text x="954.0" y="50.3" font-size="24" font-weight="400" fill="#0a0a0a" text-anchor="start" textLength="227.6" lengthAdjust="spacingAndGlyphs" stroke="url(#gRR)" stroke-width="0.75" xml:space="preserve">Call Center Simulation</text>
<text x="998.0" y="74.6" font-size="24" font-weight="400" fill="#0a0a0a" text-anchor="start" textLength="137.5" lengthAdjust="spacingAndGlyphs" stroke="url(#gRR)" stroke-width="0.75" xml:space="preserve">(Future State)</text>
<rect x="426.2" y="85.3" width="133.5" height="59" fill="#fff" stroke="#8c8c8c" stroke-width="1"/>
<text x="430.6" y="102.8" font-size="13" font-weight="700" fill="#0a0a0a" text-anchor="start" textLength="125.0" lengthAdjust="spacingAndGlyphs" stroke="#fff" stroke-width="0.3" xml:space="preserve">Operator Status Key</text>
<circle cx="467.5" cy="113.2" r="4.60" fill="#00ff00" stroke="#000" stroke-width="1"/>
<circle cx="467.5" cy="129.0" r="4.60" fill="#0000ff" stroke="#000" stroke-width="1"/>
<text x="477.8" y="117.8" font-size="13" font-weight="400" fill="#222" text-anchor="start" textLength="27.8" lengthAdjust="spacingAndGlyphs" xml:space="preserve">Busy</text>
<text x="478.8" y="133.5" font-size="13" font-weight="400" fill="#222" text-anchor="start" textLength="20.6" lengthAdjust="spacingAndGlyphs" xml:space="preserve">Idle</text>
<rect x="1038.2" y="93.5" width="158.4" height="42.8" fill="#fff" stroke="#8c8c8c" stroke-width="1"/>
<text x="1103.0" y="112.6" font-size="14.5" font-weight="400" fill="#ff1010" text-anchor="start" textLength="33.2" lengthAdjust="spacingAndGlyphs" xml:space="preserve">VRUs</text>
<text x="1099.4" y="127.5" font-size="14.5" font-weight="400" fill="#ff1010" text-anchor="start" textLength="39.6" lengthAdjust="spacingAndGlyphs" xml:space="preserve">Active</text>
<text x="1178.0" y="121.8" font-size="15" font-weight="400" fill="#222" text-anchor="start" textLength="7.8" lengthAdjust="spacingAndGlyphs" xml:space="preserve">4</text>
<polygon points="1052.7,120.1 1081.8,118.0 1092.6,126.6 1092.6,127.9 1057.2,134.3 1056.3,132.9" fill="#333"/>
<polygon points="1052.7,120.1 1081.8,118.0 1092.6,126.6 1056.9,133.2" fill="#4d4d4d"/>
<polygon points="1055.8,121.3 1080.7,119.4 1088.6,125.4 1059.2,129.8" fill="#8d8d8d"/>
<polygon points="1070.4,126.9 1078.9,126.1 1081.3,128.2 1072.1,129.3" fill="#1c1c1c"/>
<polyline points="1056.6,123.4 1082.7,120.9" stroke="#3c3c3c" stroke-width="0.6" fill="none"/>
<polyline points="1057.5,125.5 1084.7,122.4" stroke="#3c3c3c" stroke-width="0.6" fill="none"/>
<polyline points="1058.3,127.6 1086.7,123.9" stroke="#3c3c3c" stroke-width="0.6" fill="none"/>
<polyline points="1057.9,121.1 1061.6,129.4" stroke="#3c3c3c" stroke-width="0.5" fill="none"/>
<polyline points="1059.9,121.0 1064.1,129.0" stroke="#3c3c3c" stroke-width="0.5" fill="none"/>
<polyline points="1062.0,120.8 1066.5,128.7" stroke="#3c3c3c" stroke-width="0.5" fill="none"/>
<polyline points="1064.1,120.7 1069.0,128.3" stroke="#3c3c3c" stroke-width="0.5" fill="none"/>
<polyline points="1066.2,120.5 1071.5,127.9" stroke="#3c3c3c" stroke-width="0.5" fill="none"/>
<polyline points="1068.2,120.3 1073.9,127.6" stroke="#3c3c3c" stroke-width="0.5" fill="none"/>
<polyline points="1070.3,120.2 1076.4,127.2" stroke="#3c3c3c" stroke-width="0.5" fill="none"/>
<polyline points="1072.4,120.0 1078.8,126.8" stroke="#3c3c3c" stroke-width="0.5" fill="none"/>
<polyline points="1074.5,119.9 1081.3,126.5" stroke="#3c3c3c" stroke-width="0.5" fill="none"/>
<polyline points="1076.6,119.7 1083.7,126.1" stroke="#3c3c3c" stroke-width="0.5" fill="none"/>
<polyline points="1078.6,119.6 1086.2,125.7" stroke="#3c3c3c" stroke-width="0.5" fill="none"/>
<polygon points="1070.4,126.9 1078.9,126.1 1081.3,128.2 1072.1,129.3" fill="#1c1c1c"/>
<polygon points="1048.8,99.2 1080.4,97.3 1082.0,118.4 1052.7,120.6" fill="#4a4a4a"/>
<polygon points="1051.8,101.4 1078.7,99.9 1079.9,116.7 1054.5,118.7" fill="#eaeaea"/>
<text x="236.7" y="390.8" font-size="15" font-weight="700" fill="#0a0a0a" text-anchor="start" textLength="81.3" lengthAdjust="spacingAndGlyphs" stroke="#fff" stroke-width="0.3" xml:space="preserve">Hold Queue</text>
<rect x="153.3" y="395.3" width="386.4" height="25" fill="#fff" stroke="#7f7f7f" stroke-width="1"/>
<text x="771.5" y="391.8" font-size="15" font-weight="700" fill="#0a0a0a" text-anchor="start" textLength="81.3" lengthAdjust="spacingAndGlyphs" stroke="#fff" stroke-width="0.3" xml:space="preserve">Hold Queue</text>
<rect x="646.5" y="395.5" width="369" height="25" fill="#fff" stroke="#7f7f7f" stroke-width="1"/>
<path d="M12.5,761 V463.5 H541.3 V761" fill="none" stroke="#c9c9c9" stroke-width="1"/>
<rect x="18" y="485" width="142" height="8.8" fill="#4472c4"/>
<rect x="379.9" y="485.2" width="154.8" height="8.8" fill="#4472c4"/>
<text x="180.5" y="493.8" font-size="16" font-weight="700" fill="#0a0a0a" text-anchor="start" textLength="171.9" lengthAdjust="spacingAndGlyphs" stroke="#fff" stroke-width="0.3" xml:space="preserve">Current State Statistics</text>
<text x="139.5" y="533.0" font-size="15" font-weight="400" fill="#4472c4" text-anchor="start" textLength="61.0" lengthAdjust="spacingAndGlyphs" xml:space="preserve">Call Type</text>
<text x="268.6" y="518.8" font-size="15" font-weight="400" fill="#4472c4" text-anchor="start" textLength="20.0" lengthAdjust="spacingAndGlyphs" xml:space="preserve">Bill</text>
<text x="248.7" y="534.0" font-size="15" font-weight="400" fill="#4472c4" text-anchor="start" textLength="59.1" lengthAdjust="spacingAndGlyphs" xml:space="preserve">Payment</text>
<text x="346.0" y="520.2" font-size="15" font-weight="400" fill="#4472c4" text-anchor="start" textLength="55.9" lengthAdjust="spacingAndGlyphs" xml:space="preserve">Account</text>
<text x="350.5" y="534.6" font-size="15" font-weight="400" fill="#4472c4" text-anchor="start" textLength="47.8" lengthAdjust="spacingAndGlyphs" xml:space="preserve">Inquiry</text>
<text x="461.6" y="534.2" font-size="15" font-weight="400" fill="#4472c4" text-anchor="start" textLength="33.2" lengthAdjust="spacingAndGlyphs" xml:space="preserve">Sales</text>
<text x="69.5" y="567.5" font-size="15" font-weight="700" fill="#1a1a1a" text-anchor="start" textLength="146.0" lengthAdjust="spacingAndGlyphs" stroke="#fff" stroke-width="0.3" xml:space="preserve">Total Calls Completed</text>
<text x="51.3" y="612.0" font-size="15" font-weight="700" fill="#1a1a1a" text-anchor="start" textLength="164.2" lengthAdjust="spacingAndGlyphs" stroke="#fff" stroke-width="0.3" xml:space="preserve">Avg. Call Duration (min)</text>
<text x="154.5" y="658.0" font-size="15" font-weight="700" fill="#1a1a1a" text-anchor="start" textLength="61.0" lengthAdjust="spacingAndGlyphs" stroke="#fff" stroke-width="0.3" xml:space="preserve">Lost Calls</text>
<text x="71.3" y="698.8" font-size="15" font-weight="700" fill="#1a1a1a" text-anchor="start" textLength="144.2" lengthAdjust="spacingAndGlyphs" stroke="#fff" stroke-width="0.3" xml:space="preserve">Avg. Hold Time (min)</text>
<text x="68.8" y="738.8" font-size="15" font-weight="700" fill="#1a1a1a" text-anchor="start" textLength="146.7" lengthAdjust="spacingAndGlyphs" stroke="#fff" stroke-width="0.3" xml:space="preserve">Max. Hold Time (min)</text>
<text x="304.8" y="567.8" font-size="14.5" font-weight="400" fill="#000" text-anchor="end" stroke="#fff" stroke-width="0.3" xml:space="preserve">557</text>
<text x="406.2" y="567.8" font-size="14.5" font-weight="400" fill="#000" text-anchor="end" stroke="#fff" stroke-width="0.3" xml:space="preserve">471</text>
<text x="503.9" y="567.8" font-size="14.5" font-weight="400" fill="#000" text-anchor="end" stroke="#fff" stroke-width="0.3" xml:space="preserve">351</text>
<text x="297.4" y="613.6" font-size="14.5" font-weight="400" fill="#000" text-anchor="end" stroke="#fff" stroke-width="0.3" xml:space="preserve">3. 10</text>
<text x="407.4" y="613.6" font-size="14.5" font-weight="400" fill="#000" text-anchor="end" stroke="#fff" stroke-width="0.3" xml:space="preserve">2. 40</text>
<text x="504.5" y="613.6" font-size="14.5" font-weight="400" fill="#000" text-anchor="end" stroke="#fff" stroke-width="0.3" xml:space="preserve">6. 70</text>
<text x="296.4" y="659.6" font-size="14.5" font-weight="400" fill="#000" text-anchor="end" stroke="#fff" stroke-width="0.3" xml:space="preserve">1</text>
<text x="407.4" y="659.6" font-size="14.5" font-weight="400" fill="#000" text-anchor="end" stroke="#fff" stroke-width="0.3" xml:space="preserve">3</text>
<text x="503.9" y="659.6" font-size="14.5" font-weight="400" fill="#000" text-anchor="end" stroke="#fff" stroke-width="0.3" xml:space="preserve">1</text>
<text x="297.4" y="700.0" font-size="14.5" font-weight="400" fill="#000" text-anchor="end" stroke="#fff" stroke-width="0.3" xml:space="preserve">5. 67</text>
<text x="406.2" y="700.0" font-size="14.5" font-weight="400" fill="#000" text-anchor="end" stroke="#fff" stroke-width="0.3" xml:space="preserve">5. 91</text>
<text x="503.9" y="700.0" font-size="14.5" font-weight="400" fill="#000" text-anchor="end" stroke="#fff" stroke-width="0.3" xml:space="preserve">6. 43</text>
<text x="297.4" y="740.5" font-size="14.5" font-weight="400" fill="#000" text-anchor="end" stroke="#fff" stroke-width="0.3" xml:space="preserve">14. 69</text>
<text x="406.2" y="740.5" font-size="14.5" font-weight="400" fill="#000" text-anchor="end" stroke="#fff" stroke-width="0.3" xml:space="preserve">14. 91</text>
<text x="504.5" y="740.5" font-size="14.5" font-weight="400" fill="#000" text-anchor="end" stroke="#fff" stroke-width="0.3" xml:space="preserve">15. 78</text>
<path d="M642.5,761 V465.5 H1172.5 V761" fill="none" stroke="#c9c9c9" stroke-width="1"/>
<rect x="653" y="482" width="140.8" height="8.8" fill="#4472c4"/>
<rect x="1013.8" y="481.2" width="155.2" height="8.8" fill="#4472c4"/>
<text x="823.8" y="489.3" font-size="16" font-weight="700" fill="#0a0a0a" text-anchor="start" textLength="163.9" lengthAdjust="spacingAndGlyphs" stroke="#fff" stroke-width="0.3" xml:space="preserve">Future State Statistics</text>
<text x="774.5" y="520.8" font-size="15" font-weight="400" fill="#4472c4" text-anchor="start" textLength="61.0" lengthAdjust="spacingAndGlyphs" xml:space="preserve">Call Type</text>
<text x="907.8" y="522.3" font-size="15" font-weight="400" fill="#4472c4" text-anchor="start" textLength="20.0" lengthAdjust="spacingAndGlyphs" xml:space="preserve">Bill</text>
<text x="887.8" y="536.8" font-size="15" font-weight="400" fill="#4472c4" text-anchor="start" textLength="59.1" lengthAdjust="spacingAndGlyphs" xml:space="preserve">Payment</text>
<text x="988.8" y="521.0" font-size="15" font-weight="400" fill="#4472c4" text-anchor="start" textLength="55.0" lengthAdjust="spacingAndGlyphs" xml:space="preserve">Account</text>
<text x="991.6" y="535.6" font-size="15" font-weight="400" fill="#4472c4" text-anchor="start" textLength="47.5" lengthAdjust="spacingAndGlyphs" xml:space="preserve">Inquiry</text>
<text x="1100.5" y="526.0" font-size="15" font-weight="400" fill="#4472c4" text-anchor="start" textLength="33.5" lengthAdjust="spacingAndGlyphs" xml:space="preserve">Sales</text>
<text x="704.5" y="569.5" font-size="15" font-weight="700" fill="#0c0c0c" text-anchor="start" textLength="146.0" lengthAdjust="spacingAndGlyphs" stroke="#fff" stroke-width="0.3" xml:space="preserve">Total Calls Completed</text>
<text x="686.3" y="610.5" font-size="15" font-weight="700" fill="#0c0c0c" text-anchor="start" textLength="164.2" lengthAdjust="spacingAndGlyphs" stroke="#fff" stroke-width="0.3" xml:space="preserve">Avg. Call Duration (min)</text>
<text x="789.5" y="651.8" font-size="15" font-weight="700" fill="#0c0c0c" text-anchor="start" textLength="61.0" lengthAdjust="spacingAndGlyphs" stroke="#fff" stroke-width="0.3" xml:space="preserve">Lost Calls</text>
<text x="706.3" y="697.5" font-size="15" font-weight="700" fill="#0c0c0c" text-anchor="start" textLength="144.2" lengthAdjust="spacingAndGlyphs" stroke="#fff" stroke-width="0.3" xml:space="preserve">Avg. Hold Time (min)</text>
<text x="703.8" y="735.8" font-size="15" font-weight="700" fill="#0c0c0c" text-anchor="start" textLength="146.7" lengthAdjust="spacingAndGlyphs" stroke="#fff" stroke-width="0.3" xml:space="preserve">Max. Hold Time (min)</text>
<text x="942.9" y="570.5" font-size="14.5" font-weight="400" fill="#000" text-anchor="end" stroke="#fff" stroke-width="0.3" xml:space="preserve">559</text>
<text x="1039.1" y="570.5" font-size="14.5" font-weight="400" fill="#000" text-anchor="end" stroke="#fff" stroke-width="0.3" xml:space="preserve">474</text>
<text x="1148.6" y="570.5" font-size="14.5" font-weight="400" fill="#000" text-anchor="end" stroke="#fff" stroke-width="0.3" xml:space="preserve">352</text>
<text x="941.7" y="611.5" font-size="14.5" font-weight="400" fill="#000" text-anchor="end" stroke="#fff" stroke-width="0.3" xml:space="preserve">3. 11</text>
<text x="1038.5" y="611.5" font-size="14.5" font-weight="400" fill="#000" text-anchor="end" stroke="#fff" stroke-width="0.3" xml:space="preserve">2. 41</text>
<text x="1148.6" y="611.5" font-size="14.5" font-weight="400" fill="#000" text-anchor="end" stroke="#fff" stroke-width="0.3" xml:space="preserve">6. 70</text>
<text x="942.2" y="651.2" font-size="14.5" font-weight="400" fill="#000" text-anchor="end" stroke="#fff" stroke-width="0.3" xml:space="preserve">0</text>
<text x="1049.0" y="651.2" font-size="14.5" font-weight="400" fill="#000" text-anchor="end" stroke="#fff" stroke-width="0.3" xml:space="preserve">0</text>
<text x="1139.7" y="651.2" font-size="14.5" font-weight="400" fill="#000" text-anchor="end" stroke="#fff" stroke-width="0.3" xml:space="preserve">0</text>
<text x="942.2" y="697.3" font-size="14.5" font-weight="400" fill="#000" text-anchor="end" stroke="#fff" stroke-width="0.3" xml:space="preserve">. 00</text>
<text x="1049.0" y="697.3" font-size="14.5" font-weight="400" fill="#000" text-anchor="end" stroke="#fff" stroke-width="0.3" xml:space="preserve">. 00</text>
<text x="1148.6" y="697.3" font-size="14.5" font-weight="400" fill="#000" text-anchor="end" stroke="#fff" stroke-width="0.3" xml:space="preserve">. 00</text>
<text x="942.2" y="736.6" font-size="14.5" font-weight="400" fill="#000" text-anchor="end" stroke="#fff" stroke-width="0.3" xml:space="preserve">. 16</text>
<text x="1039.1" y="736.6" font-size="14.5" font-weight="400" fill="#000" text-anchor="end" stroke="#fff" stroke-width="0.3" xml:space="preserve">. 19</text>
<text x="1148.6" y="736.6" font-size="14.5" font-weight="400" fill="#000" text-anchor="end" stroke="#fff" stroke-width="0.3" xml:space="preserve">. 25</text></g>
</svg>
</body></html>
